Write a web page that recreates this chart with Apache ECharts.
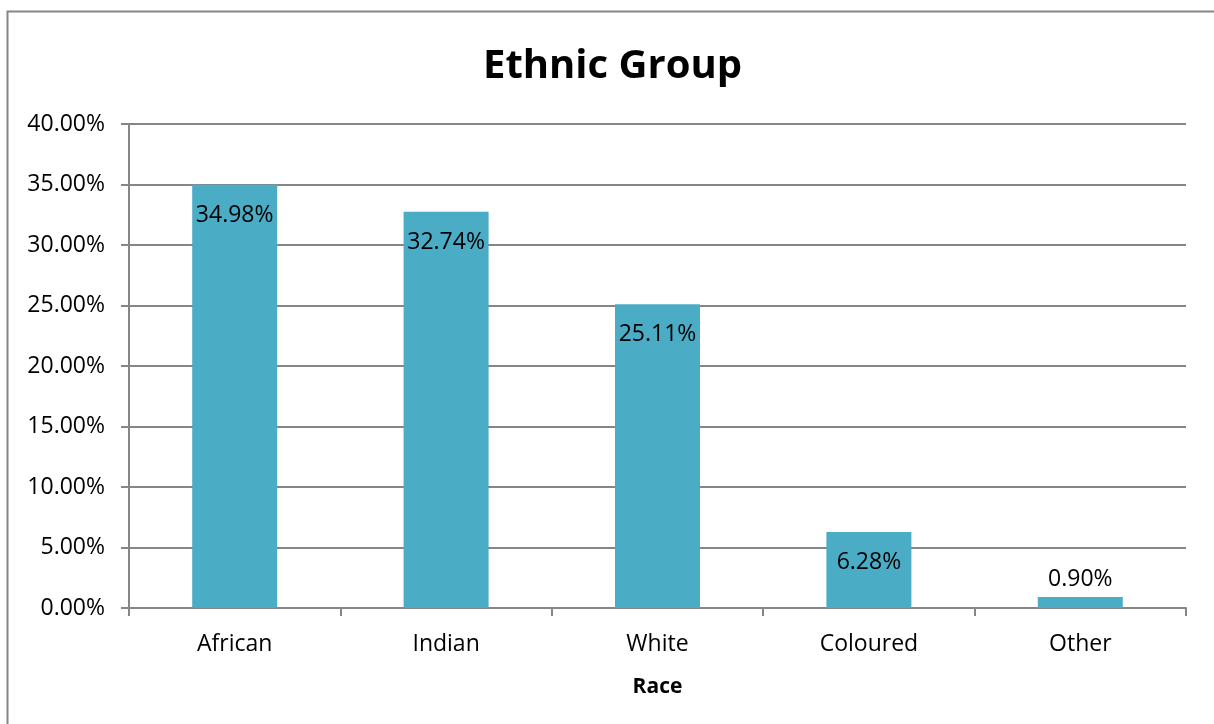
<!DOCTYPE html>
<html>
<head>
<meta charset="utf-8">
<script src="https://cdn.jsdelivr.net/npm/echarts@6/dist/echarts.min.js"></script>
<style>
  html, body { margin: 0; padding: 0; background: #fff; }
  #chart { width: 1214px; height: 724px; }
</style>
</head>
<body>
<div id="chart"></div>
<script>
// data
var races = ['African', 'Indian', 'White', 'Coloured', 'Other'];
var shares = [34.98, 32.74, 25.11, 6.28, 0.90];
var yTicks = [0, 5, 10, 15, 20, 25, 30, 35, 40];

var axisGray = '#868686';
var font = '"Open Sans", "DejaVu Sans", sans-serif';

var barData = shares.map(function (v) {
    // tiny bar: label sits above it, as in the original
    if (v < 3) {
        return { value: v, label: { position: 'top', distance: 6 } };
    }
    return v;
});

var chart = echarts.init(document.getElementById('chart'));
chart.setOption({
    animation: false,
    graphic: [{
        type: 'rect',
        shape: { x: 7.5, y: 11.5, width: 1220, height: 740 },
        style: { fill: 'none', stroke: axisGray, lineWidth: 2 },
        silent: true
    }],
    title: {
        text: 'Ethnic Group',
        left: 478,
        top: 42,
        textStyle: { fontFamily: font, fontSize: 40, fontWeight: 'bold', color: '#000' }
    },
    grid: { left: 129, right: 28, top: 124, bottom: 116 },
    xAxis: {
        type: 'category',
        data: races,
        name: 'Race',
        nameLocation: 'middle',
        nameGap: 69,
        nameTextStyle: { fontFamily: font, fontSize: 21, fontWeight: 'bold', color: '#000' },
        axisLine: { lineStyle: { color: axisGray, width: 2 } },
        axisTick: { show: true, length: 8, lineStyle: { color: axisGray, width: 2 } },
        axisLabel: { fontFamily: font, fontSize: 23, color: '#000', margin: 25 }
    },
    yAxis: {
        type: 'value',
        min: yTicks[0],
        max: yTicks[yTicks.length - 1],
        interval: 5,
        axisLine: { show: true, lineStyle: { color: axisGray, width: 2 } },
        axisTick: { show: true, length: 8, lineStyle: { color: axisGray, width: 2 } },
        splitLine: { lineStyle: { color: axisGray, width: 2 } },
        axisLabel: {
            fontFamily: font, fontSize: 23, color: '#000', margin: 24,
            formatter: function (v) { return v.toFixed(2) + '%'; }
        }
    },
    series: [{
        type: 'bar',
        data: barData,
        barWidth: 85,
        itemStyle: { color: '#4BACC6' },
        label: {
            show: true,
            position: 'insideTop',
            distance: 19,
            fontFamily: font,
            fontSize: 23,
            color: '#000',
            formatter: function (p) { return p.value.toFixed(2) + '%'; }
        }
    }]
});
</script>
</body>
</html>
